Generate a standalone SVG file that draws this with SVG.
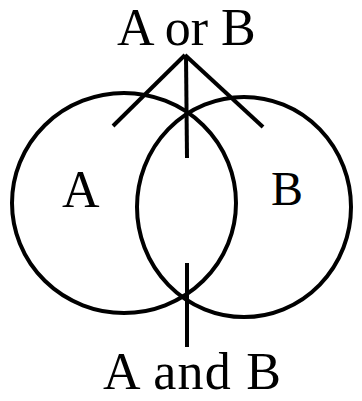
<svg xmlns="http://www.w3.org/2000/svg" width="362" height="401" viewBox="0 0 362 401">
<style>
.c{fill:none;stroke:#000;stroke-width:4}
.l{stroke:#000;stroke-width:4;stroke-linecap:butt}
text{font-family:"Liberation Serif","Times New Roman",serif;fill:#000}
</style>
<rect width="362" height="401" fill="#fff"/>
<g id="setA"><ellipse class="c" cx="124" cy="203" rx="112" ry="110"/><text x="62" y="207" font-size="52">A</text></g>
<g id="setB"><ellipse class="c" cx="244" cy="207" rx="107" ry="110"/><text x="271" y="205" font-size="48">B</text></g>
<g id="union"><text x="117" y="45" font-size="52">A or B</text></g>
<g id="intersection"><text x="103" y="389" font-size="52" textLength="178" lengthAdjust="spacing">A and B</text></g>
<g id="connectors">
<line class="l" x1="185" y1="55" x2="113" y2="126"/>
<line class="l" x1="186" y1="55" x2="187" y2="158"/>
<line class="l" x1="185" y1="55" x2="263" y2="127"/>
<line class="l" x1="187" y1="263" x2="187" y2="347"/>
</g>
</svg>
